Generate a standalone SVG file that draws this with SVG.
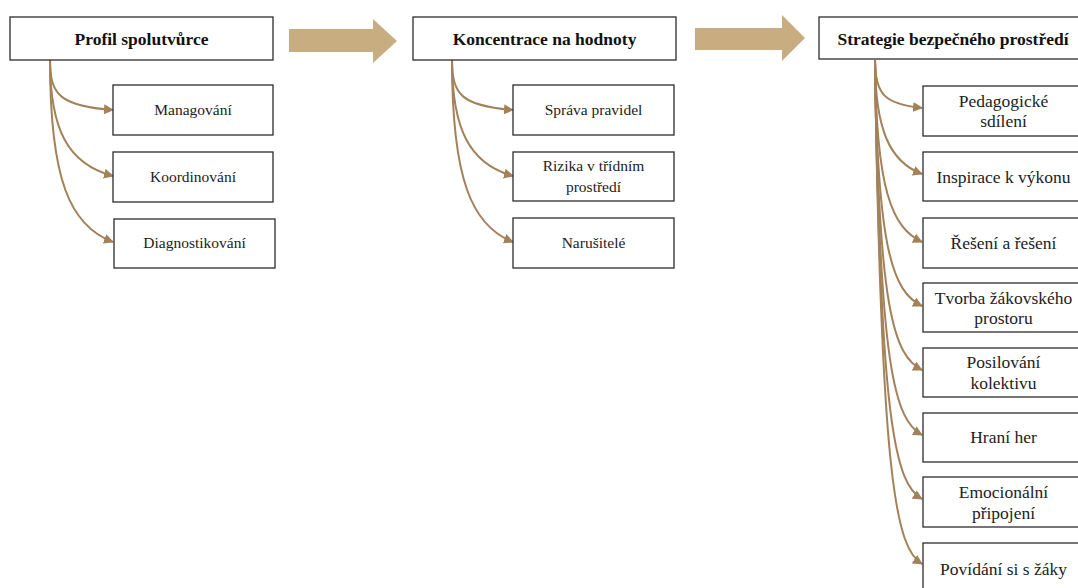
<svg xmlns="http://www.w3.org/2000/svg" width="1078" height="588" viewBox="0 0 1078 588">
  <style>
    .box { fill: #ffffff; stroke: #2b2b2b; stroke-width: 1.3; }
    .title { font-family: "Liberation Serif", "Times New Roman", serif; font-weight: bold; font-size: 17.5px; fill: #111; text-anchor: middle; }
    .item { font-family: "Liberation Serif", "Times New Roman", serif; font-size: 15.5px; fill: #222; text-anchor: middle; }
    .item-lg { font-family: "Liberation Serif", "Times New Roman", serif; font-size: 17.5px; fill: #222; text-anchor: middle; }
    .link { fill: none; stroke: #a3825a; stroke-width: 2; marker-end: url(#tip); }
    .flow { fill: #c8ad80; }
  </style>
  <defs>
    <marker id="tip" markerUnits="userSpaceOnUse" markerWidth="10" markerHeight="10" viewBox="0 0 10 10" refX="9" refY="5" orient="auto">
      <path d="M0,0 L10,5 L0,10 z" fill="#a3825a"/>
    </marker>
  </defs>

  <rect width="1078" height="588" fill="#ffffff"/>

  <!-- block arrows between stages -->
  <g id="flow-arrows">
    <path class="flow" d="M289,29 L373,29 L373,19 L397,41 L373,63 L373,52 L289,52 z"/>
    <path class="flow" d="M695,28 L782,28 L782,15 L805,38 L782,61 L782,50 L695,50 z"/>
  </g>

  <!-- connectors -->
  <g id="connectors">
    <path class="link" d="M50,60 C50,95 60,106 113,110"/>
    <path class="link" d="M50,60 C50,130 68,164 113,176"/>
    <path class="link" d="M50,60 C50,180 70,226 113,242"/>

    <path class="link" d="M452,60 C452,95 462,106 513,110"/>
    <path class="link" d="M452,60 C452,130 470,164 513,176"/>
    <path class="link" d="M452,60 C452,180 472,226 513,242"/>

    <path class="link" d="M875,60 C875,95 885,104 922,108"/>
    <path class="link" d="M875,60 C875,130 890,162 922,174"/>
    <path class="link" d="M875,60 C876,190 892,228 922,242"/>
    <path class="link" d="M875,60 C877,250 893,292 922,306"/>
    <path class="link" d="M875,60 C878,310 894,356 922,370"/>
    <path class="link" d="M875,60 C879,370 895,420 922,435"/>
    <path class="link" d="M875,60 C880,430 896,484 922,499"/>
    <path class="link" d="M875,60 C881,490 897,548 922,564"/>
  </g>

  <!-- stage 1 -->
  <g id="profil-spolutvurce">
    <rect class="box" x="10" y="17" width="263" height="43"/>
    <text class="title" x="141.5" y="45">Profil spolutvůrce</text>
  </g>
  <g id="managovani">
    <rect class="box" x="113" y="85" width="160" height="50"/>
    <text class="item" x="193" y="115">Managování</text>
  </g>
  <g id="koordinovani">
    <rect class="box" x="113" y="152" width="160" height="50"/>
    <text class="item" x="193" y="182">Koordinování</text>
  </g>
  <g id="diagnostikovani">
    <rect class="box" x="114" y="219" width="161" height="49"/>
    <text class="item" x="194.5" y="248">Diagnostikování</text>
  </g>

  <!-- stage 2 -->
  <g id="koncentrace-na-hodnoty">
    <rect class="box" x="413" y="17" width="263" height="43"/>
    <text class="title" x="544.5" y="45">Koncentrace na hodnoty</text>
  </g>
  <g id="sprava-pravidel">
    <rect class="box" x="513" y="85" width="161" height="50"/>
    <text class="item" x="593.5" y="115">Správa pravidel</text>
  </g>
  <g id="rizika">
    <rect class="box" x="513" y="152" width="161" height="49"/>
    <text class="item" x="593.5" y="171">Rizika v třídním</text>
    <text class="item" x="593.5" y="192">prostředí</text>
  </g>
  <g id="narusitele">
    <rect class="box" x="513" y="218" width="161" height="50"/>
    <text class="item" x="593.5" y="248">Narušitelé</text>
  </g>

  <!-- stage 3 -->
  <g id="strategie">
    <rect class="box" x="819" y="17" width="268" height="42"/>
    <text class="title" x="953" y="45">Strategie bezpečného prostředí</text>
  </g>
  <g id="pedagogicke-sdileni">
    <rect class="box" x="923" y="86" width="162" height="50"/>
    <text class="item-lg" x="1003.5" y="107">Pedagogické</text>
    <text class="item-lg" x="1003.5" y="127">sdílení</text>
  </g>
  <g id="inspirace">
    <rect class="box" x="923" y="152" width="162" height="49"/>
    <text class="item-lg" x="1003.5" y="183">Inspirace k výkonu</text>
  </g>
  <g id="reseni">
    <rect class="box" x="923" y="218" width="162" height="50"/>
    <text class="item-lg" x="1003.5" y="249">Řešení a řešení</text>
  </g>
  <g id="tvorba">
    <rect class="box" x="923" y="283" width="162" height="49"/>
    <text class="item-lg" x="1003.5" y="304">Tvorba žákovského</text>
    <text class="item-lg" x="1003.5" y="324">prostoru</text>
  </g>
  <g id="posilovani">
    <rect class="box" x="923" y="348" width="162" height="49"/>
    <text class="item-lg" x="1003.5" y="368">Posilování</text>
    <text class="item-lg" x="1003.5" y="389">kolektivu</text>
  </g>
  <g id="hrani-her">
    <rect class="box" x="923" y="413" width="162" height="49"/>
    <text class="item-lg" x="1003.5" y="443">Hraní her</text>
  </g>
  <g id="emocionalni">
    <rect class="box" x="923" y="477" width="162" height="50"/>
    <text class="item-lg" x="1003.5" y="498">Emocionální</text>
    <text class="item-lg" x="1003.5" y="519">připojení</text>
  </g>
  <g id="povidani">
    <rect class="box" x="923" y="543" width="162" height="52"/>
    <text class="item-lg" x="1003.5" y="575">Povídání si s žáky</text>
  </g>
</svg>
